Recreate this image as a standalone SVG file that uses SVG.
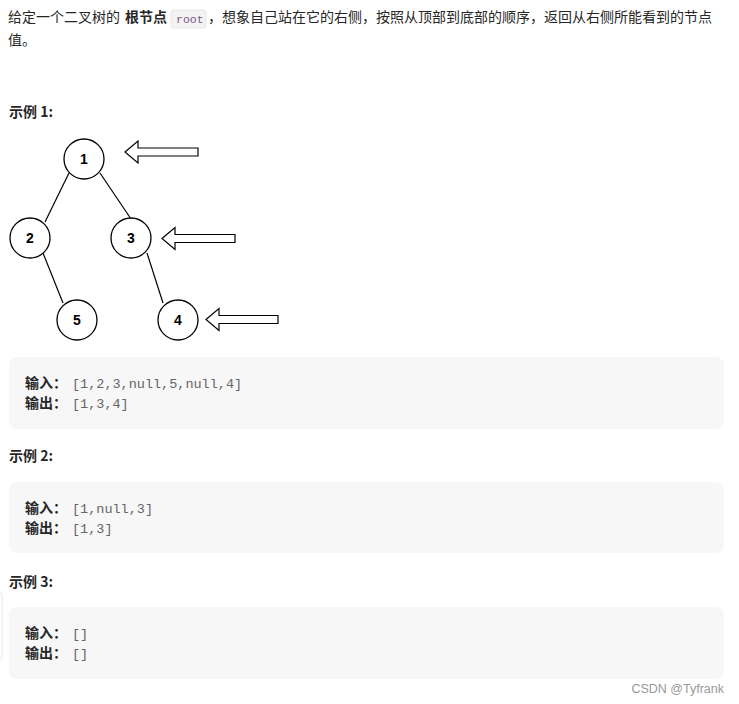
<svg xmlns="http://www.w3.org/2000/svg" width="739" height="704" viewBox="0 0 739 704">
<style>
.t{font-family:"Noto Sans CJK SC","Liberation Sans",sans-serif;font-size:14px;fill:#262626}
.b{font-weight:bold}
.code{font-family:"Liberation Mono","DejaVu Sans Mono",monospace;font-size:13.5px;fill:#666}
.box{fill:#f7f7f7}
.node circle{fill:#fff;stroke:#000;stroke-width:1.3}
.node text{font-family:"Liberation Sans",Arial,sans-serif;font-size:14px;font-weight:bold;fill:#000;text-anchor:middle}
.edges line{stroke:#000;stroke-width:1.2}
.arrow{fill:#fff;stroke:#000;stroke-width:1.2;stroke-linejoin:miter}
</style>
<rect width="739" height="704" fill="#fff"/>
<path d="M0 592 Q2 592 2 596 L2 656 Q2 660 0 660" fill="none" stroke="#e8e8e8" stroke-width="1"/>

<g id="description">
<text class="t" y="22"><tspan x="8">给定一个二叉树的</tspan><tspan x="125" class="b">根节点</tspan></text>
<rect x="171" y="10" width="35" height="18" rx="3" fill="#f3f3f3" stroke="#e6e6e6" stroke-width="1"/>
<text x="176" y="23" style="font-family:'Liberation Mono','DejaVu Sans Mono',monospace;font-size:11.5px;fill:#7a5a86">root</text>
<text class="t" x="208" y="22">，想象自己站在它的右侧，按照从顶部到底部的顺序，返回从右侧所能看到的节点</text>
<text class="t" x="8" y="45">值。</text>
</g>

<text class="t b" x="9" y="117">示例 1:</text>

<g id="edges" class="edges">
<line x1="69" y1="173" x2="45" y2="222"/>
<line x1="100" y1="173" x2="131" y2="219"/>
<line x1="43" y1="253" x2="63" y2="303"/>
<line x1="147" y1="253" x2="163" y2="303"/>
</g>

<g id="node1" class="node"><circle cx="84" cy="159" r="20"/><text x="84" y="164">1</text></g>
<g id="node2" class="node"><circle cx="30" cy="238" r="20"/><text x="30" y="243">2</text></g>
<g id="node3" class="node"><circle cx="131" cy="238" r="20"/><text x="131" y="243">3</text></g>
<g id="node5" class="node"><circle cx="77" cy="320" r="20"/><text x="77" y="325">5</text></g>
<g id="node4" class="node"><circle cx="178" cy="320" r="20"/><text x="178" y="325">4</text></g>

<g id="arrows">
<polygon class="arrow" points="125,152 138,141 138,148 198,148 198,156 138,156 138,163"/>
<polygon class="arrow" points="162,238.5 175,227.5 175,234.5 235,234.5 235,242.5 175,242.5 175,249.5"/>
<polygon class="arrow" points="206,319.5 219,308.5 219,315.5 278,315.5 278,323.5 219,323.5 219,330.5"/>
</g>

<g id="example1">
<rect class="box" x="9" y="357" width="715" height="72" rx="8"/>
<text class="t b" x="25" y="388">输入：</text>
<text class="code" x="72" y="388">[1,2,3,null,5,null,4]</text>
<text class="t b" x="25" y="408">输出：</text>
<text class="code" x="72" y="408">[1,3,4]</text>
</g>

<text class="t b" x="9" y="461">示例 2:</text>
<g id="example2">
<rect class="box" x="9" y="482" width="715" height="71" rx="8"/>
<text class="t b" x="25" y="513">输入：</text>
<text class="code" x="72" y="513">[1,null,3]</text>
<text class="t b" x="25" y="533">输出：</text>
<text class="code" x="72" y="533">[1,3]</text>
</g>

<text class="t b" x="9" y="587">示例 3:</text>
<g id="example3">
<rect class="box" x="9" y="607" width="715" height="72" rx="8"/>
<text class="t b" x="25" y="638">输入：</text>
<text class="code" x="72" y="638">[]</text>
<text class="t b" x="25" y="658">输出：</text>
<text class="code" x="72" y="658">[]</text>
</g>

<text x="724" y="693" text-anchor="end" style="font-family:'Liberation Sans Narrow','Liberation Sans',sans-serif;font-size:12.5px;fill:#999">CSDN @Tyfrank</text>
</svg>
